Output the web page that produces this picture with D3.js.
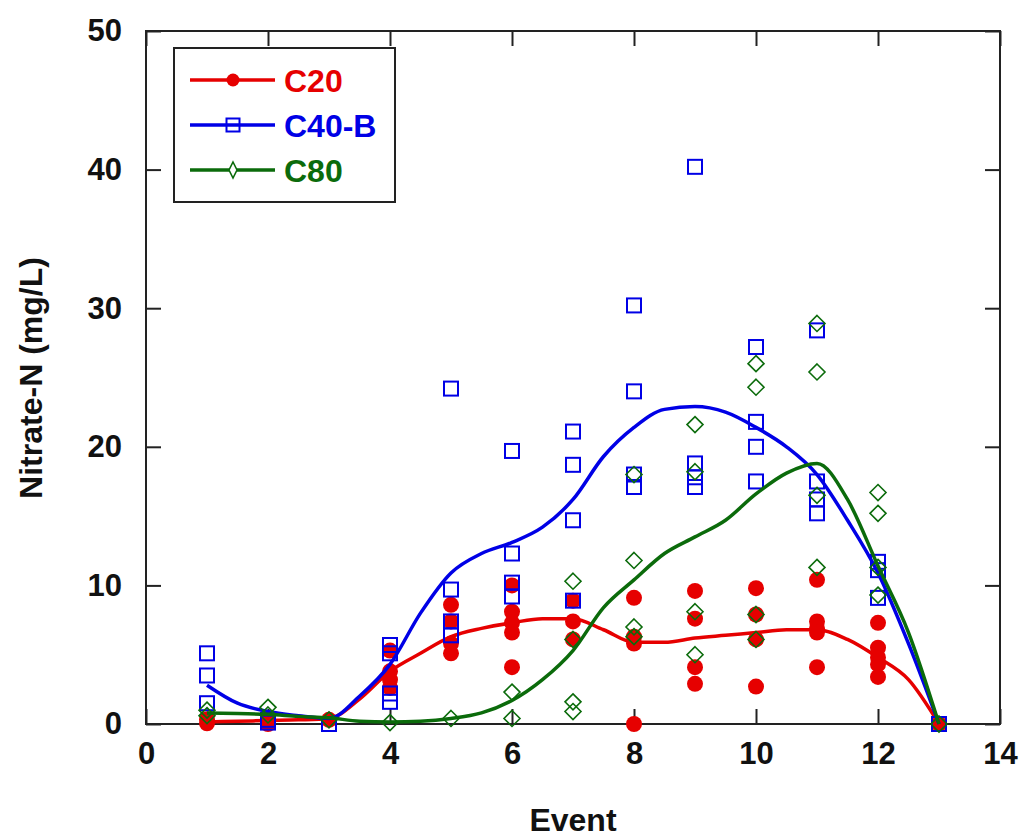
<!DOCTYPE html>
<html lang="en">
  <head>
    <meta charset="UTF-8" />
    <script src="https://d3js.org/d3.v7.min.js"></script>
    <title>Nitrate-N by event</title>
    <style>
      body { margin: 0; background: #fff; }
      text { font-family: "Liberation Sans", Arial, sans-serif; font-weight: bold; }
    </style>
  </head>
  <body>
    <script>
      // measured values per event (mg/L)
      const events = [1, 2, 3, 4, 5, 6, 7, 8, 9, 10, 11, 12, 13];
      const c20Obs = [
        [0.35, 0.05], [0.4, 0.0], [0.3], [5.3, 3.8, 3.2, 2.6],
        [8.6, 7.4, 5.8, 5.1], [10.0, 8.1, 7.3, 6.6, 4.1], [8.9, 7.4, 6.1],
        [9.1, 6.3, 5.8, 0.0], [9.6, 7.6, 4.1, 2.9], [9.8, 7.9, 6.1, 2.7],
        [10.4, 7.4, 6.9, 6.6, 4.1], [7.3, 5.5, 4.8, 4.3, 3.4], [0]
      ];
      const c40Obs = [
        [5.1, 3.5, 1.5], [0.3, 0.1], [0.0], [5.7, 5.1, 2.2, 1.6],
        [24.2, 9.7, 7.4, 6.4], [19.7, 12.3, 10.2, 9.2], [21.1, 18.7, 14.7, 8.9],
        [30.2, 24.0, 18.0, 17.1], [40.2, 18.8, 17.8, 17.1], [27.2, 21.8, 20.0, 17.5],
        [28.4, 17.5, 16.2, 15.2], [11.7, 11.1, 9.1], [0]
      ];
      const c80Obs = [
        [1.0, 0.6], [1.2, 0.65], [0.3], [0.1], [0.4], [2.3, 0.4],
        [10.3, 6.1, 1.6, 0.9], [18.0, 11.8, 7.0, 6.3], [21.6, 18.2, 8.1, 5.0],
        [26.0, 24.3, 7.9, 6.1], [28.9, 25.4, 16.5, 11.3], [16.7, 15.2, 11.3, 9.3], [0]
      ];

      // smoothed trend lines, read at half-event steps
      const curveEvents = [1, 1.5, 2, 2.5, 3, 3.5, 4, 4.5, 5, 5.5, 6, 6.5, 7,
        7.5, 8, 8.5, 9, 9.5, 10, 10.5, 11, 11.5, 12, 12.5, 13];
      const c20Curve = [0.15, 0.2, 0.25, 0.3, 0.4, 1.8, 3.8, 5.1, 6.3, 6.9, 7.3, 7.6, 7.6,
        6.8, 5.9, 5.9, 6.2, 6.4, 6.6, 6.8, 6.8, 6.1, 4.8, 3.2, 0];
      const c40Curve = [2.8, 1.5, 0.9, 0.6, 0.4, 2.0, 4.3, 8.0, 10.9, 12.3, 13.1, 14.2, 16.2,
        19.3, 21.4, 22.7, 22.9, 22.5, 21.4, 20.0, 18.0, 14.7, 10.9, 5.8, 0];
      const c80Curve = [0.8, 0.75, 0.7, 0.55, 0.45, 0.2, 0.15, 0.2, 0.4, 0.8, 1.7, 3.2, 5.3,
        8.4, 10.4, 12.3, 13.5, 14.7, 16.6, 18.1, 18.8, 16.2, 11.4, 6.6, 0];

      const xTicks = [0, 2, 4, 6, 8, 10, 12, 14];
      const yTicks = [0, 10, 20, 30, 40, 50];

      const red = "#e60000", blue = "#0000e6", green = "#0b6b0b";

      const series = [
        { name: "C20", color: red, obs: c20Obs, curve: c20Curve, shape: "circle" },
        { name: "C40-B", color: blue, obs: c40Obs, curve: c40Curve, shape: "square" },
        { name: "C80", color: green, obs: c80Obs, curve: c80Curve, shape: "diamond" }
      ];

      const width = 1020, height = 839;
      const svg = d3.select("body").append("svg")
        .attr("width", width).attr("height", height);

      const x = d3.scaleLinear().domain([0, 14]).range([146, 1000]);
      const y = d3.scaleLinear().domain([0, 50]).range([724, 31]);

      // axes, ticks pointing inward on all four sides
      const fmt = d3.format("d");
      svg.append("g").attr("transform", "translate(0,724)")
        .call(d3.axisBottom(x).tickValues(xTicks).tickSize(-15).tickPadding(18).tickFormat(fmt));
      svg.append("g").attr("transform", "translate(146,0)")
        .call(d3.axisLeft(y).tickValues(yTicks).tickSize(-15).tickPadding(24).tickFormat(fmt));
      svg.append("g").attr("transform", "translate(0,31)")
        .call(d3.axisTop(x).tickValues(xTicks).tickSize(-15).tickFormat(""));
      svg.append("g").attr("transform", "translate(1000,0)")
        .call(d3.axisRight(y).tickValues(yTicks).tickSize(-15).tickFormat(""));

      svg.selectAll(".domain").remove();
      svg.selectAll(".tick line").attr("stroke", "#222").attr("stroke-width", 2);
      svg.selectAll(".tick text").attr("font-size", 31).attr("fill", "#111");

      svg.append("rect")
        .attr("x", 146).attr("y", 31)
        .attr("width", 1000 - 146).attr("height", 724 - 31)
        .attr("fill", "none").attr("stroke", "#222").attr("stroke-width", 2);

      svg.append("text")
        .attr("x", 573).attr("y", 831)
        .attr("text-anchor", "middle")
        .attr("font-size", 32).attr("fill", "#111")
        .text("Event");

      svg.append("text")
        .attr("transform", "translate(42,378) rotate(-90)")
        .attr("text-anchor", "middle")
        .attr("font-size", 32).attr("fill", "#111")
        .text("Nitrate-N (mg/L)");

      const line = d3.line()
        .x((d, i) => x(curveEvents[i]))
        .y(d => y(d))
        .curve(d3.curveMonotoneX);

      function drawMarker(g, shape, color, cx, cy, big) {
        if (shape === "circle") {
          g.append("circle").attr("cx", cx).attr("cy", cy)
            .attr("r", big ? 8 : 6.5).attr("fill", color);
        } else if (shape === "square") {
          const s = big ? 14 : 13;
          g.append("rect").attr("x", cx - s / 2).attr("y", cy - s / 2)
            .attr("width", s).attr("height", s)
            .attr("fill", "none").attr("stroke", color).attr("stroke-width", 2);
        } else {
          const w = big ? 8 : 4, h = 8;
          g.append("path")
            .attr("d", `M${cx},${cy - h}L${cx + w},${cy}L${cx},${cy + h}L${cx - w},${cy}Z`)
            .attr("fill", big ? "none" : "#fff").attr("stroke", color).attr("stroke-width", 1.6);
        }
      }

      series.forEach(s => {
        const g = svg.append("g");
        g.append("path")
          .datum(s.curve)
          .attr("d", line)
          .attr("fill", "none")
          .attr("stroke", s.color)
          .attr("stroke-width", 3.5);
        events.forEach((ev, i) => {
          s.obs[i].forEach(v => drawMarker(g, s.shape, s.color, x(ev), y(v), true));
        });
      });

      // legend
      const lg = svg.append("g");
      lg.append("rect")
        .attr("x", 174).attr("y", 48)
        .attr("width", 221).attr("height", 154)
        .attr("fill", "#fff").attr("stroke", "#222").attr("stroke-width", 2);
      series.forEach((s, i) => {
        const ly = 80 + i * 45;
        lg.append("line")
          .attr("x1", 190).attr("x2", 275)
          .attr("y1", ly).attr("y2", ly)
          .attr("stroke", s.color).attr("stroke-width", 3.5);
        drawMarker(lg, s.shape, s.color, 233, ly, false);
        lg.append("text")
          .attr("x", 284).attr("y", ly).attr("dy", "0.36em")
          .attr("font-size", 32).attr("fill", s.color)
          .text(s.name);
      });
    </script>
  </body>
</html>
